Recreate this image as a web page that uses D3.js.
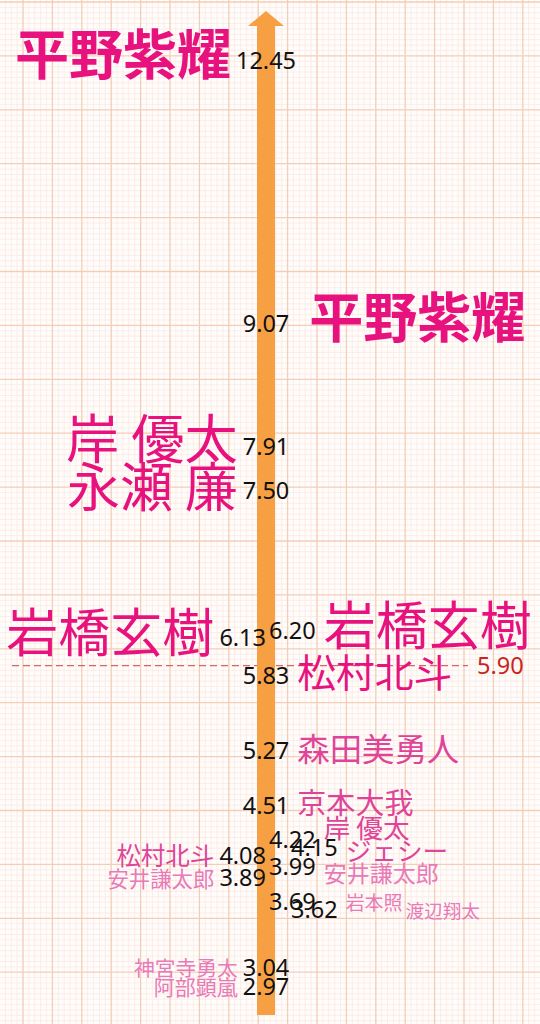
<!DOCTYPE html>
<html>
<head>
<meta charset="utf-8">
<script src="https://cdn.jsdelivr.net/npm/d3@7"></script>
<style>
html, body { margin: 0; padding: 0; background: #fffdfc; }
svg { display: block; }
</style>
</head>
<body>
<script>
var leftNames = ["平野紫耀", "岸 優太", "永瀬 廉", "岩橋玄樹", "松村北斗", "安井謙太郎", "神宮寺勇太", "阿部顕嵐"];
var leftValues = [12.45, 7.91, 7.50, 6.13, 4.08, 3.89, 3.04, 2.97];
var rightNames = ["平野紫耀", "岩橋玄樹", "松村北斗", "森田美勇人", "京本大我", "岸 優太", "ジェシー", "安井謙太郎", "岩本照", "渡辺翔太"];
var rightValues = [9.07, 6.20, 5.83, 5.27, 4.51, 4.22, 4.15, 3.99, 3.69, 3.62];
var averageValue = 5.90;

var width = 540, height = 1024, axisX = 266;

var svg = d3.select("body").append("svg").attr("width", width).attr("height", height);

// the axis is not uniform on the original, so use a polylinear scale
var yScale = d3.scaleLinear()
    .domain([3, 4.5, 5.3, 6, 9, 12.5])
    .range([983, 806, 748, 652, 329, 57]);
var sizeScale = d3.scaleLinear()
    .domain([2.97, 3.65, 3.9, 4.2, 4.5, 5.3, 5.85, 6.1, 9])
    .range([21, 18.5, 21.5, 26.5, 29, 32.5, 39, 52, 54])
    .clamp(true);
var colorScale = d3.scaleThreshold()
    .domain([4.0, 5.5])
    .range(["#e97ab8", "#df4499", "#e8127f"]);

// graph paper
var vLines = d3.range(-4, 90).map(i => ({ pos: 23 + i * 5.88, major: i % 5 === 0 })).filter(d => d.pos >= 0 && d.pos <= width),
    hLines = d3.range(0, 200).map(i => ({ pos: 2 + i * 5.39, major: i % 10 === 0 })).filter(d => d.pos <= height);
var grid = svg.append("g");
grid.append("rect").attr("width", width).attr("height", height).attr("fill", "#fffdfc");
[false, true].forEach(major => {
    grid.append("g").selectAll("line")
        .data(vLines.filter(d => d.major === major))
        .enter().append("line")
        .attr("x1", d => d.pos).attr("x2", d => d.pos)
        .attr("y1", 0).attr("y2", height)
        .attr("stroke", major ? "#f4cdb6" : "#fbe8e1")
        .attr("stroke-width", major ? 1.3 : 0.8);
    grid.append("g").selectAll("line")
        .data(hLines.filter(d => d.major === major))
        .enter().append("line")
        .attr("y1", d => d.pos).attr("y2", d => d.pos)
        .attr("x1", 0).attr("x2", width)
        .attr("stroke", major ? "#f4cdb6" : "#fbe8e1")
        .attr("stroke-width", major ? 1.3 : 0.8);
});

// average line
svg.append("line")
    .attr("x1", 12).attr("x2", 468)
    .attr("y1", yScale(averageValue)).attr("y2", yScale(averageValue))
    .attr("stroke", "#c9443f").attr("stroke-width", 1)
    .attr("stroke-dasharray", "7,4");

// arrow
svg.append("rect")
    .attr("x", axisX - 9).attr("y", 25)
    .attr("width", 18).attr("height", 990)
    .attr("fill", "#f7a043");
svg.append("path")
    .attr("d", d3.line()([[axisX - 18, 26], [axisX, 11], [axisX + 18, 26]]) + "Z")
    .attr("fill", "#f7a043");

var entries = leftNames.map((n, i) => ({ name: n, value: leftValues[i], side: "left" }))
    .concat(rightNames.map((n, i) => ({ name: n, value: rightValues[i], side: "right" })));

entries.forEach(d => {
    let other = entries.filter(e => e.side !== d.side);
    d.y = yScale(d.value);
    d.fs = sizeScale(d.value);
    d.mode = d3.min(other, e => Math.abs(e.value - d.value)) < 0.28 ? d.side : "center";
    d.shift = 0;
});

// labels on the arrow: push up when they collide
var centerCol = entries.filter(d => d.mode === "center").sort((a, b) => b.y - a.y);
centerCol.forEach((d, i) => {
    if (i > 0) d.y = Math.min(d.y, centerCol[i - 1].y - 19);
});
// labels beside the arrow: stagger sideways
["left", "right"].forEach(side => {
    let col = entries.filter(d => d.mode === side).sort((a, b) => a.y - b.y);
    col.forEach((d, i) => {
        let prev = col[i - 1];
        d.shift = prev && d.y - prev.y < 17 && prev.shift === 0 ? 22 : 0;
    });
});

var valueLabels = svg.append("g").selectAll("text")
    .data(entries)
    .enter().append("text")
    .attr("x", d => d.mode === "center" ? axisX : d.mode === "left" ? axisX - d.shift : axisX + 3 + d.shift)
    .attr("y", d => d.y)
    .attr("dy", "0.36em")
    .attr("text-anchor", d => d.mode === "center" ? "middle" : d.mode === "left" ? "end" : "start")
    .attr("font-family", "'Noto Sans', sans-serif")
    .attr("font-size", 23.5)
    .attr("fill", "#111")
    .text(d => d.value.toFixed(2));

valueLabels.each(function (d) {
    let w = this.getComputedTextLength();
    d.x0 = d.mode === "center" ? axisX - w / 2 : d.mode === "left" ? axisX - d.shift - w : axisX + 3 + d.shift;
    d.x1 = d.x0 + w;
});

var nameLabels = svg.append("g").selectAll("text")
    .data(entries)
    .enter().append("text")
    .attr("dy", "0.38em")
    .attr("text-anchor", d => d.side === "left" ? "end" : "start")
    .attr("font-family", "'Noto Sans CJK JP', sans-serif")
    .attr("font-weight", d => d.value >= 9 ? 700 : 400)
    .attr("font-size", d => d.fs)
    .attr("fill", d => colorScale(d.value))
    .text(d => d.name);

nameLabels.each(function (d) { d.w = this.getComputedTextLength(); });

["left", "right"].forEach(side => {
    let col = entries.filter(d => d.side === side).sort((a, b) => b.value - a.value);
    col.forEach(d => d.cy = d.y - 0.2 * (d.fs - 24));
    col.forEach((d, i) => {
        let prev = col[i - 1];
        d.chain = !!prev && d.fs < 20 && d.cy - prev.cy < 0.8 * (d.fs + prev.fs) / 2;
    });
    let free = col.filter(d => !d.chain);
    for (let k = 0; k < 80; k++) {
        for (let i = 1; i < free.length; i++) {
            let a = free[i - 1], b = free[i],
                need = 0.9 * (a.fs + b.fs) / 2,
                gap = b.cy - a.cy;
            if (gap < need) {
                a.cy -= (need - gap) / 2;
                b.cy += (need - gap) / 2;
            }
        }
    }
    col.forEach((d, i) => {
        let prev = col[i - 1];
        if (d.chain) {
            d.nx = side === "left" ? prev.nx - prev.w - 3 : prev.nx + prev.w + 3;
            return;
        }
        let near = entries.filter(e => e === d || Math.abs(e.y - d.cy) < d.fs / 2);
        d.nx = side === "left" ? d3.min(near, e => e.x0) - 5 : d3.max(near, e => e.x1) + (d.value >= 9 ? 20 : 8);
    });
});

nameLabels
    .attr("x", d => d.nx)
    .attr("y", d => d.cy);

svg.append("text")
    .attr("x", 477)
    .attr("y", yScale(averageValue))
    .attr("dy", "0.36em")
    .attr("font-family", "'Noto Sans', sans-serif")
    .attr("font-size", 23.5)
    .attr("fill", "#c8261c")
    .text(averageValue.toFixed(2));
</script>
</body>
</html>
